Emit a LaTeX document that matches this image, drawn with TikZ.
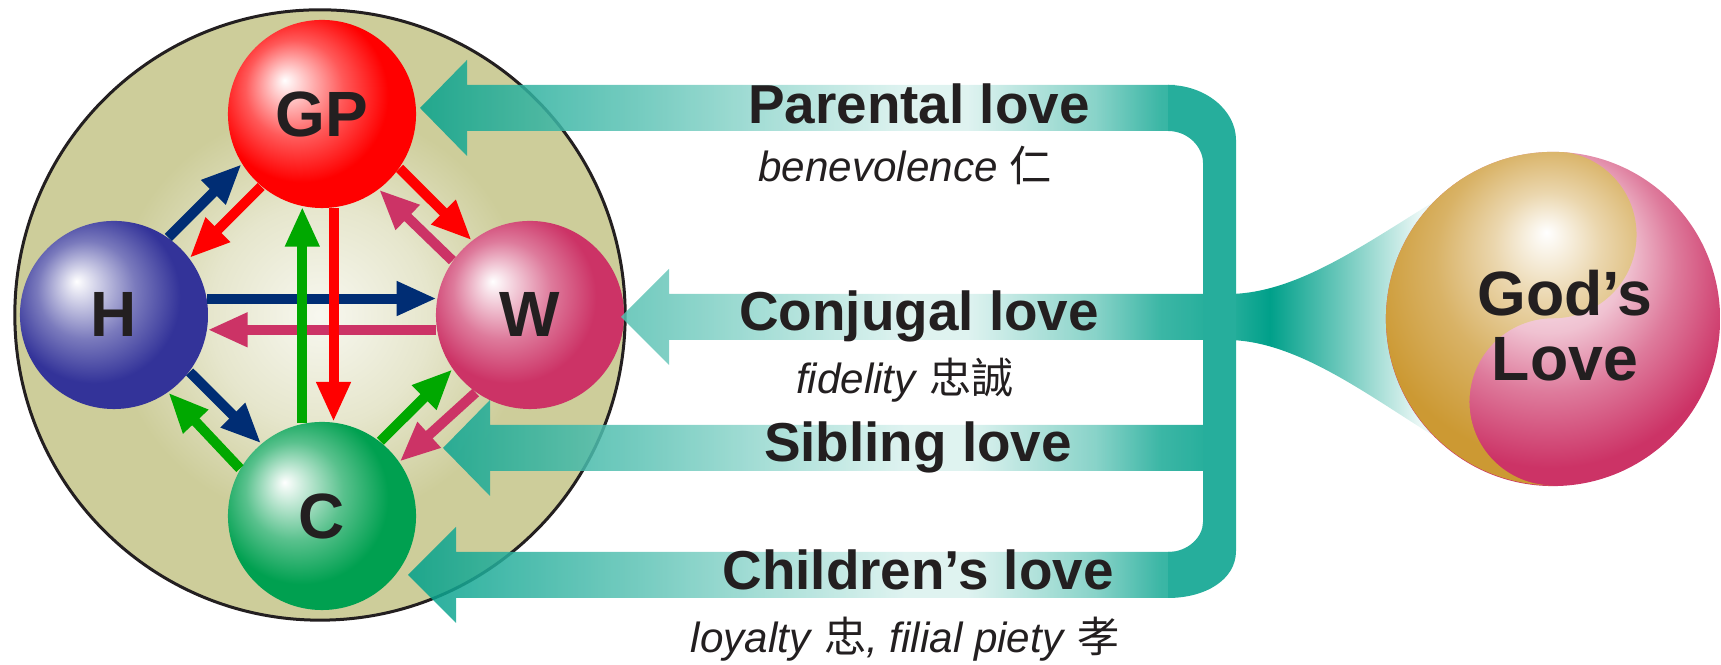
\documentclass[tikz,border=0pt]{standalone}
\usepackage{fontspec}
\setmainfont{Liberation Sans}
\newfontfamily\cjk{Noto Sans CJK TC}
\usetikzlibrary{arrows.meta}

\definecolor{khaki}{RGB}{205,205,154}
\definecolor{hblue}{RGB}{51,51,153}
\definecolor{gpred}{RGB}{255,0,0}
\definecolor{wpink}{RGB}{204,51,102}
\definecolor{cgreen}{RGB}{0,160,80}
\definecolor{navyline}{RGB}{0,45,116}
\definecolor{greenline}{RGB}{0,168,0}
\definecolor{loveteal}{RGB}{0,160,138}
\definecolor{godgold}{RGB}{204,153,51}
\definecolor{inkblack}{RGB}{35,31,32}
\colorlet{spherecol}{gpred}

\pgfdeclareradialshading[spherecol]{sphere}{\pgfpoint{-10bp}{9bp}}{color(0bp)=(spherecol!0!white); color(5bp)=(spherecol!25!white); color(13bp)=(spherecol!65!white); color(23bp)=(spherecol); color(34bp)=(spherecol); color(42bp)=(spherecol!90!black); color(50bp)=(spherecol!90!black)}
\pgfdeclareradialshading{glow}{\pgfpoint{0bp}{0bp}}{color(0bp)=(khaki!15!white); color(9bp)=(khaki!50!white); color(17bp)=(khaki); color(50bp)=(khaki)}
\pgfdeclarehorizontalshading{shaft}{100bp}{color(0bp)=(loveteal); color(25bp)=(loveteal); color(40bp)=(loveteal!62!white); color(56bp)=(loveteal!15!white); color(60bp)=(loveteal!15!white); color(68bp)=(loveteal!55!white); color(72bp)=(loveteal!90!white); color(75bp)=(loveteal); color(100bp)=(loveteal)}
\pgfdeclarehorizontalshading{funnel}{100bp}{color(0bp)=(loveteal!85!white); color(25bp)=(loveteal!85!white); color(33bp)=(loveteal); color(48bp)=(loveteal!55!white); color(63bp)=(loveteal!8!white); color(75bp)=(white); color(100bp)=(white)}
\pgfdeclareradialshading{godgoldball}{\pgfpoint{-1bp}{13bp}}{color(0bp)=(white); color(8bp)=(godgold!40!white); color(17bp)=(godgold!75!white); color(27bp)=(godgold); color(50bp)=(godgold)}
\pgfdeclareradialshading{godpinkball}{\pgfpoint{-1bp}{13bp}}{color(0bp)=(white); color(12bp)=(wpink!30!white); color(19bp)=(wpink!65!white); color(28bp)=(wpink); color(50bp)=(wpink)}

\tikzset{
    sphere/.style={circle, minimum size=1.88cm, inner sep=0pt, shade, shading=sphere, text=inkblack, font=\fontsize{18.2}{20}\selectfont\bfseries},
    sphere color/.code={\colorlet{spherecol}{#1}},
    relarrow/.style={line width=0.1cm, -{Triangle[length=0.40cm, width=0.32cm]}},
    lovelabel/.style={anchor=base, inner sep=0pt, text=inkblack, font=\fontsize{15.6}{18}\selectfont\bfseries},
    virtue/.style={anchor=base, inner sep=0pt, text=inkblack, font=\fontsize{12}{14}\selectfont},
}

\begin{document}
\begin{tikzpicture}[x=0.01cm, y=0.01cm]
    \useasboundingbox (0,0) rectangle (1721,665);

    \node[circle, minimum size=6.1cm, inner sep=0pt, draw=inkblack, line width=0.03cm, shade, shading=glow] (family) at (320,350) {};

    \node[sphere, sphere color=gpred] (GP) at (322,551) {GP};
    \node[sphere, sphere color=hblue] (H) at (114,350) {H};
    \node[sphere, sphere color=wpink] (W) at (530,350) {W};
    \node[sphere, sphere color=cgreen] (C) at (322,149) {C};

    \draw[relarrow, navyline] (H.10) -- (W.170);
    \draw[relarrow, wpink] (W.189) -- (H.351);
    \draw[relarrow, gpred] (GP.277) -- (C.83);
    \draw[relarrow, greenline] (C.102) -- (GP.258);
    \draw[relarrow, navyline] (H.55) -- (GP.212);
    \draw[relarrow, gpred] (GP.230) -- (H.37);
    \draw[relarrow, gpred] (GP.325) -- (W.128);
    \draw[relarrow, wpink] (W.145) -- (GP.307);
    \draw[relarrow, navyline] (H.323) -- (C.130);
    \draw[relarrow, greenline] (C.150) -- (H.305);
    \draw[relarrow, greenline] (C.52) -- (W.215);
    \draw[relarrow, wpink] (W.235) -- (C.35);

    \shade[shading=funnel] (1230,371) .. controls (1300,372) and (1370,425) .. (1445,470) -- (1480,470) -- (1480,222) -- (1445,222) .. controls (1370,268) and (1300,323) .. (1230,325) -- cycle;

    \shade[shading=shaft, opacity=0.85]
        (420,557) -- ++(47,48) -- ++(0,-25) -- (1175,580) -- (1175,534) -- (467,534) -- ++(0,-25) -- cycle
        (621,348) -- ++(48,48) -- ++(0,-25) -- (1208,371) -- (1208,325) -- (669,325) -- ++(0,-25) -- cycle
        (443,217) -- ++(47,48) -- ++(0,-25) -- (1208,240) -- (1208,194) -- (490,194) -- ++(0,-25) -- cycle
        (408,90) -- ++(48,48) -- ++(0,-25) -- (1175,113) -- (1175,67) -- (456,67) -- ++(0,-25) -- cycle;

    \fill[loveteal!85!white] (1168,580) .. controls (1205,580) and (1236,555) .. (1236,525) -- (1236,114) .. controls (1236,85) and (1205,67) .. (1168,67) -- (1168,113) .. controls (1188,113) and (1203,128) .. (1203,143) -- (1203,502) .. controls (1203,518) and (1188,534) .. (1168,534) -- cycle;

    \node[circle, minimum size=3.34cm, inner sep=0pt] (god) at (1553,346) {};
    \shade[shading=godpinkball] (god.center) circle[radius=1.67cm];
    \begin{scope}
        \clip (god.north) arc[start angle=90, end angle=270, radius=1.67cm] arc[start angle=-90, end angle=-270, radius=0.835cm] arc[start angle=-90, end angle=90, radius=0.835cm] -- cycle;
        \shade[shading=godgoldball] (god.center) circle[radius=1.67cm];
    \end{scope}
    \node[text=inkblack, font=\fontsize{17.8}{18.5}\selectfont\bfseries, align=center, inner sep=0pt] (godlabel) at (1565,339) {God’s\\Love};

    \node[lovelabel] (parental) at (919,541) {Parental love};
    \node[virtue] (benevolence) at (905,483) {\textit{benevolence} {\cjk 仁}};
    \node[lovelabel] (conjugal) at (919,334) {Conjugal love};
    \node[virtue] (fidelity) at (905,271) {\textit{fidelity} {\cjk 忠誠}};
    \node[lovelabel] (sibling) at (918,203) {Sibling love};
    \node[lovelabel] (children) at (918,75) {Children’s love};
    \node[virtue] (loyalty) at (905,12) {\textit{loyalty} {\cjk 忠}\textit{, filial piety} {\cjk 孝}};

\end{tikzpicture}
\end{document}
